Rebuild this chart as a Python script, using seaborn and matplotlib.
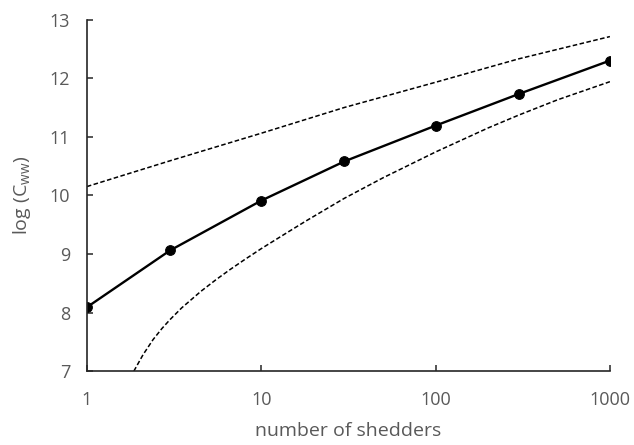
import matplotlib
matplotlib.use("Agg")
import matplotlib.pyplot as plt
import matplotlib.ticker as mticker
import seaborn as sns

# number of shedders vs log concentration (main estimate)
shedders = [1, 3, 10, 30, 100, 300, 1000]
log_cww = [8.09, 9.06, 9.91, 10.58, 11.19, 11.73, 12.30]

# upper bound (dashed)
upper_x = [1, 3, 10, 30, 100, 300, 1000]
upper_y = [10.15, 10.59, 11.06, 11.50, 11.93, 12.33, 12.71]

# lower bound (dashed)
lower_x = [1.86, 2.1, 2.4, 2.7, 3, 3.5, 4.5, 5.5, 6.6, 8, 10, 14, 18, 24, 30,
           50, 100, 200, 300, 500, 1000]
lower_y = [7.0, 7.28, 7.54, 7.73, 7.88, 8.08, 8.36, 8.56, 8.73, 8.90, 9.09,
           9.36, 9.56, 9.78, 9.95, 10.30, 10.74, 11.15, 11.37, 11.63, 11.94]

x_ticks = [1, 10, 100, 1000]
y_ticks = [7, 8, 9, 10, 11, 12, 13]

sns.set_style("ticks")
plt.rcParams["font.family"] = ["Open Sans", "DejaVu Sans"]
plt.rcParams["mathtext.fontset"] = "custom"
plt.rcParams["mathtext.rm"] = "Open Sans"
plt.rcParams["mathtext.it"] = "Open Sans"

grey = "#595959"

fig = plt.figure(figsize=(6.34, 4.45), dpi=100)
ax = fig.add_axes([0.137, 0.166, 0.825, 0.790])

sns.lineplot(x=upper_x, y=upper_y, ax=ax, color="black", linewidth=1.1)
sns.lineplot(x=lower_x, y=lower_y, ax=ax, color="black", linewidth=1.1)
sns.lineplot(x=shedders, y=log_cww, ax=ax, color="black", linewidth=1.7,
             marker="o", markersize=7, markeredgecolor="black")

for ln in ax.lines[:2]:
    ln.set_linestyle((0, (3, 1.6)))

ax.set_xscale("log")
ax.set_xlim(1, 1000)
ax.set_ylim(7, 13)
ax.set_xticks(x_ticks)
ax.xaxis.set_major_formatter(mticker.FuncFormatter(lambda v, p: f"{int(v)}"))
ax.xaxis.set_minor_locator(mticker.NullLocator())
ax.set_yticks(y_ticks)

for s in ["top", "right"]:
    ax.spines[s].set_visible(False)
for s in ["left", "bottom"]:
    ax.spines[s].set_color("#262626")
    ax.spines[s].set_linewidth(1.2)

ax.tick_params(axis="x", direction="in", length=4, width=1.1, color="#262626",
               pad=14, labelsize=13, labelcolor=grey)
ax.tick_params(axis="y", direction="in", length=4, width=1.1, color="#262626",
               pad=12, labelsize=13, labelcolor=grey)

ax.set_xlabel("number of shedders", fontsize=14, color=grey, labelpad=10)
ax.set_ylabel(r"log (C$_{\mathrm{ww}}$)", fontsize=14, color=grey, labelpad=12)

fig.savefig("out.png", dpi=100)
